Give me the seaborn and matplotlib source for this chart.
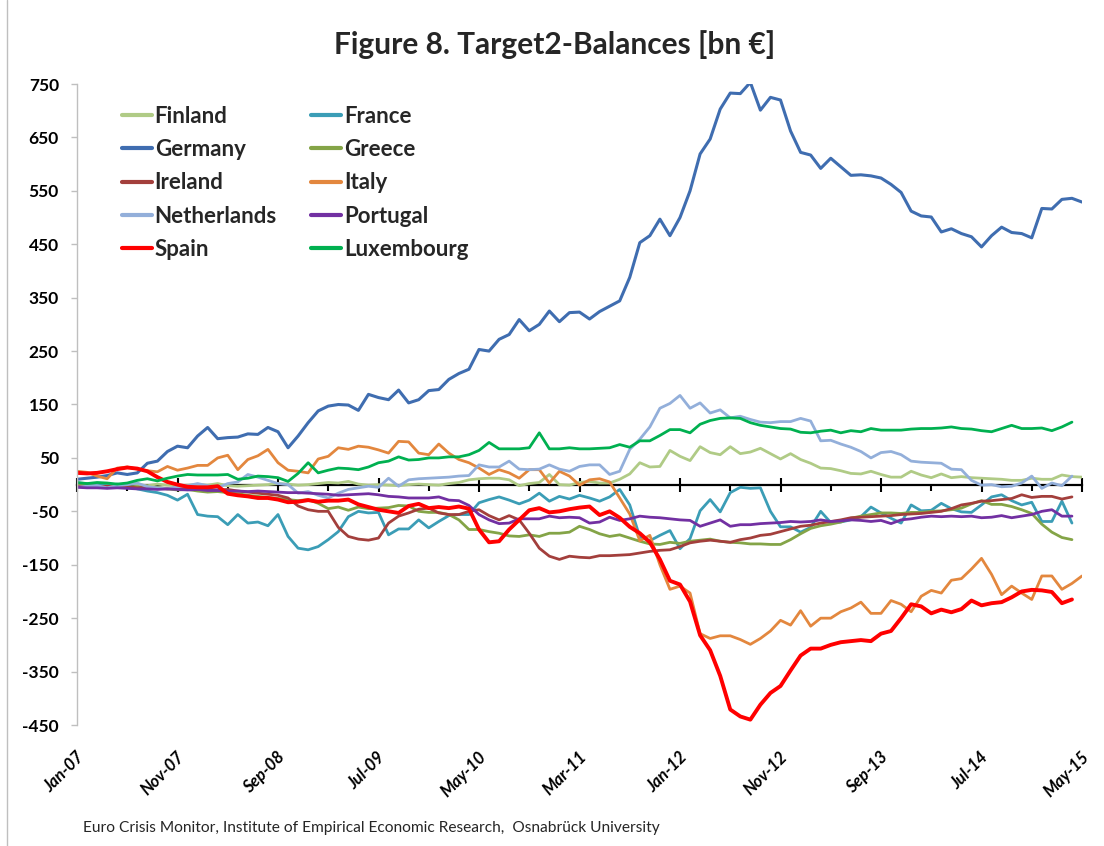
import numpy as np
import pandas as pd
import matplotlib
matplotlib.use("Agg")
import matplotlib.pyplot as plt
import matplotlib.transforms as mtransforms
from matplotlib.lines import Line2D
import seaborn as sns

# ---------------- data (bn EUR, monthly from Jan-07) ----------------
tick_labels = ["Jan-07", "Nov-07", "Sep-08", "Jul-09", "May-10", "Mar-11",
               "Jan-12", "Nov-12", "Sep-13", "Jul-14", "May-15"]
tick_months = [0, 10, 20, 30, 40, 50, 60, 70, 80, 90, 100]
y_ticks = [-450, -350, -250, -150, -50, 50, 150, 250, 350, 450, 550, 650, 750]

finland = [-2, -3, -2, 0, -1, 2, 0, -2, 1, -1,
           -2, -1, 0, -1, 2, -2, -3, -2, -1, 0,
           2, 1, -1, 0, 2, 4, 3, 6, 1, -1,
           0, -1, -2, 0, 1, 0, -1, 2, 4, 9,
           11, 12, 12, 9, -2, 2, 4, 19, 0, -1,
           4, 6, 3, 3, 10, 20, 41, 33, 34, 64,
           53, 45, 71, 60, 56, 71, 58, 61, 68, 58,
           48, 58, 47, 40, 31, 30, 26, 21, 20, 25,
           19, 14, 14, 25, 18, 13, 20, 13, 15, 13,
           12, 11, 10, 8, 8, 12, 10, 10, 18, 15,
           14]

france = [3, 2, 0, -2, 1, -3, -8, -12, -15, -20,
          -29, -18, -56, -59, -60, -75, -56, -72, -70, -77,
          -56, -97, -119, -122, -116, -103, -88, -60, -50, -53,
          -52, -94, -83, -83, -66, -81, -69, -58, -56, -56,
          -34, -28, -23, -29, -36, -29, -16, -31, -22, -27,
          -20, -25, -31, -23, -9, -38, -98, -105, -95, -86,
          -120, -101, -49, -28, -51, -15, -5, -7, -6, -50,
          -79, -79, -89, -80, -50, -71, -70, -66, -60, -42,
          -53, -63, -72, -38, -49, -48, -35, -45, -51, -52,
          -38, -23, -19, -30, -38, -33, -69, -69, -31, -72]

germany = [10, 12, 14, 17, 22, 19, 22, 40, 44, 62,
           72, 69, 91, 107, 86, 88, 89, 95, 94, 107,
           99, 69, 91, 116, 138, 147, 150, 149, 139, 169,
           163, 159, 177, 153, 159, 176, 178, 197, 208, 216,
           253, 250, 272, 281, 309, 288, 300, 325, 305, 322,
           323, 310, 324, 334, 344, 388, 453, 466, 497, 466,
           500, 550, 619, 647, 703, 733, 732, 753, 701, 725,
           720, 662, 622, 617, 592, 611, 595, 579, 580, 578,
           574, 562, 547, 512, 503, 501, 473, 479, 470, 464,
           445, 466, 482, 472, 470, 462, 517, 516, 534, 536,
           529]

greece = [0, -2, -3, -4, -2, -5, -4, -6, -5, -8,
          -10, -9, -12, -14, -13, -15, -17, -20, -22, -24,
          -26, -28, -30, -28, -35, -45, -42, -48, -42, -45,
          -44, -43, -39, -40, -50, -52, -52, -56, -66, -84,
          -84, -88, -91, -96, -97, -94, -97, -91, -91, -89,
          -78, -84, -92, -97, -94, -100, -106, -111, -112, -108,
          -110, -106, -104, -102, -106, -108, -109, -111, -111, -112,
          -112, -103, -92, -82, -77, -74, -70, -63, -59, -56,
          -53, -53, -54, -52, -52, -50, -49, -47, -44, -36,
          -30, -37, -37, -41, -47, -54, -74, -89, -99, -103]

ireland = [-3, -4, -5, -3, -5, -4, -6, -5, -7, -8,
           -6, -8, -9, -8, -10, -9, -12, -14, -16, -18,
           -20, -25, -40, -47, -50, -50, -80, -97, -102, -104,
           -100, -72, -59, -53, -46, -44, -53, -56, -56, -50,
           -47, -58, -66, -58, -66, -91, -119, -134, -140, -134,
           -136, -137, -133, -133, -132, -131, -128, -125, -123, -122,
           -116, -109, -106, -104, -106, -108, -103, -100, -95, -93,
           -88, -83, -78, -76, -72, -69, -66, -62, -61, -60,
           -59, -58, -56, -55, -54, -52, -50, -45, -38, -35,
           -31, -30, -28, -26, -19, -24, -22, -22, -27, -23]

italy = [25, 23, 16, 11, 31, 33, 29, 26, 24, 34,
         27, 31, 36, 36, 50, 55, 28, 47, 54, 66,
         41, 27, 25, 22, 48, 53, 69, 66, 72, 70,
         65, 59, 81, 80, 59, 56, 76, 59, 47, 41,
         31, 19, 28, 22, 12, 28, 28, 3, 25, 16,
         -1, 9, 11, 5, -25, -55, -105, -95, -150, -196,
         -190, -203, -279, -288, -283, -283, -290, -299, -288, -274,
         -254, -263, -236, -265, -250, -250, -238, -231, -220, -241,
         -241, -217, -224, -238, -209, -198, -203, -179, -176, -158,
         -138, -168, -206, -190, -203, -215, -171, -171, -196, -185,
         -171]

netherlands = [-5, -3, -2, -6, -2, 0, 3, -4, -6, -8,
               -4, -2, 2, -2, -6, 2, 5, 19, 14, 8,
               2, 0, -16, -13, -20, -25, -16, -9, -6, -3,
               -5, 12, -3, 9, 11, 12, 13, 14, 16, 17,
               37, 33, 33, 44, 29, 28, 29, 37, 29, 25,
               34, 37, 37, 19, 25, 66, 85, 108, 143, 152,
               167, 143, 153, 134, 140, 125, 128, 122, 117, 116,
               118, 118, 124, 119, 82, 83, 76, 70, 62, 50,
               60, 62, 56, 44, 42, 41, 40, 29, 28, 8,
               -1, 0, -4, -3, 3, 16, -7, 3, -2, 16]

portugal = [-5, -6, -6, -7, -6, -7, -8, -8, -9, -8,
            -9, -10, -9, -11, -11, -12, -12, -13, -12, -13,
            -14, -15, -15, -16, -17, -18, -20, -19, -18, -17,
            -19, -22, -23, -25, -25, -25, -23, -29, -30, -39,
            -56, -66, -73, -72, -64, -64, -64, -59, -62, -61,
            -62, -72, -70, -61, -67, -64, -59, -61, -62, -64,
            -66, -67, -78, -72, -66, -78, -75, -75, -73, -72,
            -71, -69, -70, -69, -66, -69, -68, -66, -67, -69,
            -67, -73, -66, -64, -61, -59, -60, -59, -60, -59,
            -62, -61, -58, -62, -59, -56, -50, -47, -59, -59]

spain = [22, 21, 22, 25, 29, 32, 30, 25, 14, 5,
         0, -4, -5, -5, -3, -17, -20, -22, -25, -25,
         -28, -33, -32, -29, -32, -30, -30, -28, -37, -42,
         -47, -50, -53, -40, -36, -44, -42, -44, -41, -45,
         -84, -108, -106, -84, -66, -48, -44, -52, -50, -46,
         -43, -41, -57, -50, -62, -79, -91, -108, -140, -180,
         -187, -219, -282, -310, -358, -421, -434, -440, -412, -390,
         -377, -348, -320, -307, -307, -300, -295, -293, -291, -293,
         -279, -274, -250, -224, -228, -241, -234, -239, -233, -217,
         -226, -222, -220, -211, -200, -197, -198, -201, -222, -215]

luxembourg = [4, 2, 4, 3, 1, 3, 8, 11, 7, 12,
              16, 19, 18, 18, 18, 19, 10, 12, 16, 15,
              13, 6, 21, 41, 22, 27, 31, 30, 28, 33,
              41, 44, 52, 46, 47, 50, 50, 52, 52, 56,
              64, 79, 67, 67, 67, 69, 97, 67, 67, 69,
              67, 67, 68, 69, 75, 70, 82, 82, 92, 103,
              103, 97, 113, 120, 124, 125, 124, 116, 111, 108,
              105, 104, 98, 97, 100, 102, 97, 101, 99, 105,
              102, 102, 102, 104, 105, 105, 106, 108, 105, 104,
              101, 99, 105, 111, 105, 105, 106, 101, 108, 117]

series = {
    "Finland": finland, "France": france, "Germany": germany, "Greece": greece,
    "Ireland": ireland, "Italy": italy, "Netherlands": netherlands,
    "Portugal": portugal, "Spain": spain, "Luxembourg": luxembourg,
}
colors = {
    "Finland": "#B0CB86", "France": "#3B9DB6", "Germany": "#3F6DB0",
    "Greece": "#84A447", "Ireland": "#A33F3C", "Italy": "#E3873E",
    "Netherlands": "#93AFDA", "Portugal": "#7230A2", "Spain": "#FF0000",
    "Luxembourg": "#00B050",
}
widths = {k: 2.0 for k in series}
widths["Spain"] = 2.8
widths["Germany"] = 2.2

rows = []
for name, vals in series.items():
    for i, v in enumerate(vals):
        rows.append((name, i, v))
df = pd.DataFrame(rows, columns=["country", "month", "value"])

# ---------------- plotting ----------------
sns.set_theme(style="white")
plt.rcParams["font.family"] = ["Lato", "DejaVu Sans"]

W, H = 1104, 846
fig = plt.figure(figsize=(W / 100, H / 100), dpi=100)
fig.patch.set_facecolor("white")
ax = fig.add_axes([77 / W, 1 - 725 / H, (1082 - 77) / W, (725 - 84) / H])

for name in series:
    sns.lineplot(data=df[df["country"] == name], x="month", y="value",
                 color=colors[name], linewidth=widths[name], ax=ax,
                 legend=False, solid_joinstyle="round")

ax.set_xlim(0, 100)
ax.set_ylim(-450, 750)
ax.set_xlabel("")
ax.set_ylabel("")

# y axis
ax.set_yticks(y_ticks, labels=[str(t) for t in y_ticks], fontweight="bold")
ax.tick_params(axis="y", direction="out", length=4, width=1, color="#BFBFBF",
               labelsize=12.5, pad=9, labelcolor="black", left=True)

# x axis at zero
ax.spines["bottom"].set_position(("data", 0))
ax.spines["bottom"].set_color("black")
ax.spines["bottom"].set_linewidth(1.6)
ax.spines["bottom"].set_zorder(1)
ax.spines["left"].set_color("#BFBFBF")
ax.spines["left"].set_linewidth(1.0)
ax.spines["top"].set_visible(False)
ax.spines["right"].set_visible(False)

ax.set_xticks(tick_months)
ax.set_xticks([m + 5 for m in tick_months[:-1]], minor=True)
ax.tick_params(axis="x", which="major", direction="inout", length=10, width=1.5,
               color="black", labelbottom=False, bottom=True)
ax.tick_params(axis="x", which="minor", direction="out", length=4, width=1.5,
               color="black", bottom=True)

lab_tr = mtransforms.offset_copy(ax.get_xaxis_transform(), fig=fig, x=10, y=-24, units="dots")
for m, lab in zip(tick_months, tick_labels):
    ax.text(m, 0, lab, transform=lab_tr, rotation=45, ha="right", va="top",
            fontsize=12, fontweight="bold", style="italic", color="black")

# legend (row-wise order as in the original -> column-major for matplotlib)
leg_order = ["Finland", "Germany", "Ireland", "Netherlands", "Spain",
             "France", "Greece", "Italy", "Portugal", "Luxembourg"]
handles = [Line2D([], [], color=colors[n], lw=3) for n in leg_order]
ax.legend(handles, leg_order, ncol=2, loc="upper left",
          bbox_to_anchor=(122 / W, 1 - 106 / H), bbox_transform=fig.transFigure,
          frameon=False, prop={"weight": "bold", "size": 16},
          handlelength=1.35, handletextpad=0.12, columnspacing=1.55,
          labelspacing=0.55, borderpad=0, borderaxespad=0)

fig.text(555 / W, 1 - 45 / H, "Figure 8. Target2-Balances [bn €]",
         ha="center", va="center", fontsize=21.5, fontweight="bold")
fig.text(83 / W, 1 - 828 / H,
         "Euro Crisis Monitor, Institute of Empirical Economic Research,  Osnabrück University",
         ha="left", va="center", fontsize=11.2)

fig.add_artist(Line2D([7 / W, 7 / W], [0, 1], color="#BFBFBF", lw=1,
                      transform=fig.transFigure))

fig.savefig("out.png", dpi=100)
